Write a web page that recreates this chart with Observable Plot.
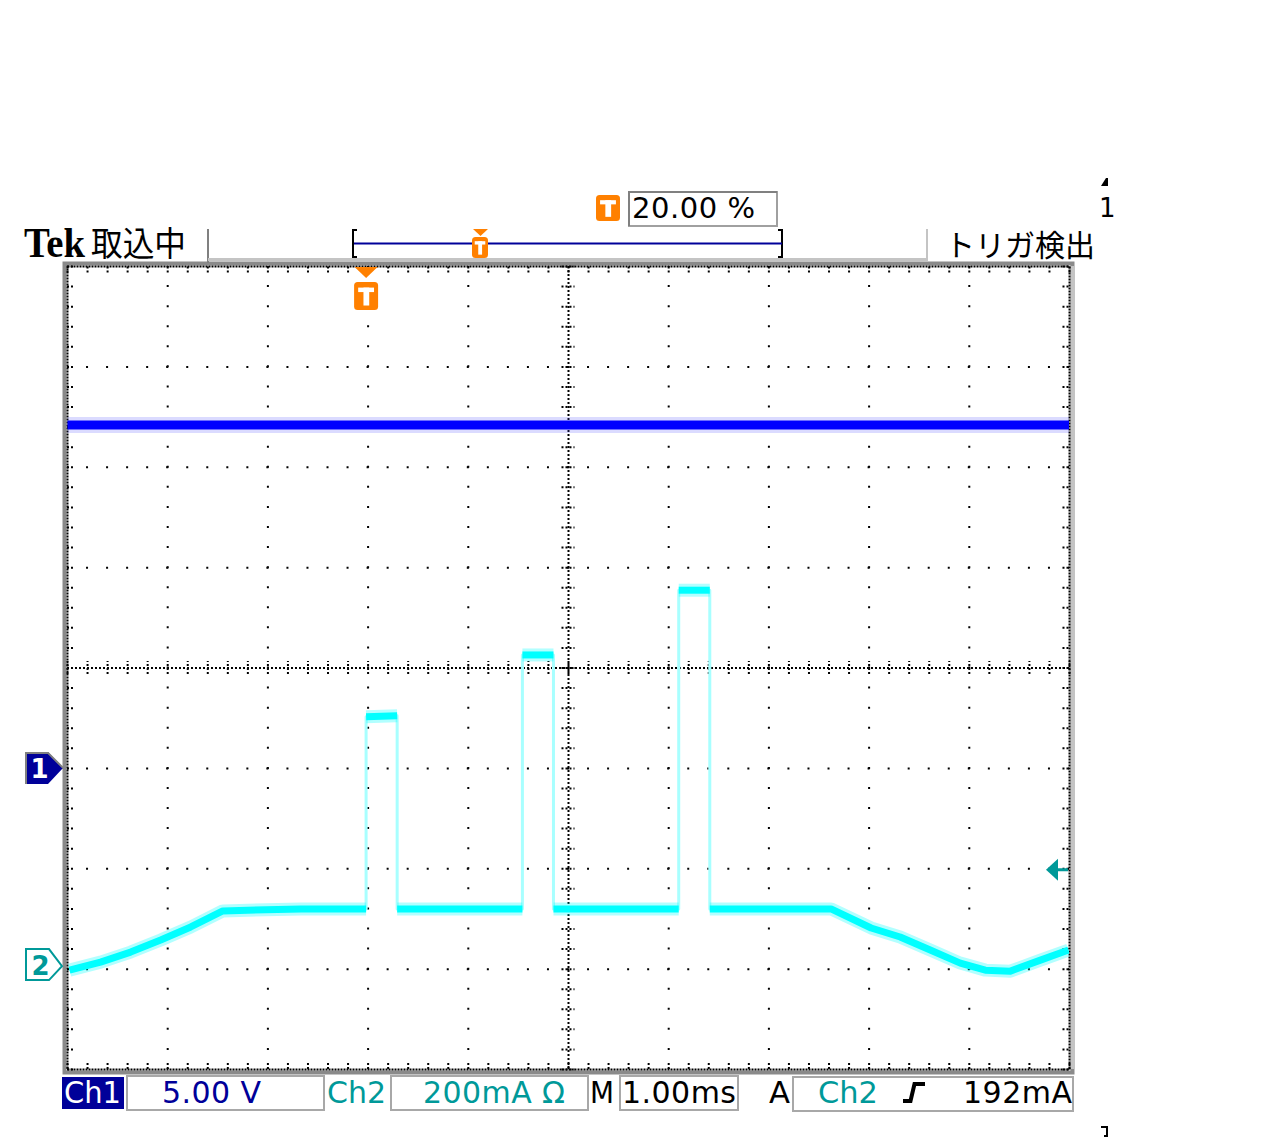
<!DOCTYPE html>
<html><head><meta charset="utf-8">
<script src="https://cdn.jsdelivr.net/npm/d3@7"></script>
<script src="https://cdn.jsdelivr.net/npm/@observablehq/plot@0.6"></script>
<style>
html,body{margin:0;padding:0;background:#fff;}
#wrap{position:relative;width:1262px;height:1138px;overflow:hidden;background:#fff;}
#wrap > svg{position:absolute;left:0;top:0;}
</style></head><body><div id="wrap"></div>
<script>
const timeDomain = [-3, 7];          // ms, 1.00 ms/div, 10 divisions, trigger at 0
const divDomain = [-4, 4];           // vertical divisions
const ch1VoltsPerDiv = 5.0;
const ch2mAPerDiv = 200;
const ch1Ground = -1.0;              // div (marker "1")
const ch2Ground = -2.975;            // div (marker "2")
const trigLevel_mA = 192;
const trigTime = 0;

const ch1Time  = [-3, -1, 1, 3, 5, 7];
const ch1Volts = [17.1, 17.1, 17.1, 17.1, 17.1, 17.1];

const ch2Time = [-2.98, -2.67, -2.37, -2.07, -1.77, -1.45, -0.67, -0.02, -0.02, 0.29, 0.29, 1.54, 1.54, 1.85, 1.85, 3.10, 3.10, 3.41, 3.41, 4.62, 5.02, 5.31, 5.61, 5.91, 6.16, 6.41, 6.71, 6.99];
const ch2mA   = [-7, 9, 29, 53, 79, 111, 115, 115, 498, 500, 115, 115, 621, 621, 115, 115, 750, 750, 115, 115, 77, 59, 33, 7, -7, -9, 13, 33];

const headerBrand = "Tek";
const headerAcq = "取込中";
const headerTrig = "トリガ検出";
const trigPosText = "20.00 %";
const ch1Label = "Ch1", ch1Scale = "5.00 V";
const ch2Label = "Ch2", ch2Scale = "200mA Ω";
const timeLabel = "M", timeScale = "1.00ms";
const trigModeLabel = "A", trigSrc = "Ch2", trigLevelText = "192mA";

// ---------------- derived tables ----------------
const ch1 = ch1Time.map((t, i) => ({t, y: ch1Ground + ch1Volts[i] / ch1VoltsPerDiv}));
let seg = 0;
const ch2 = ch2Time.map((t, i) => {
  if (i > 0 && t === ch2Time[i - 1]) seg++;
  return {t, y: ch2Ground + ch2mA[i] / ch2mAPerDiv, seg};
});
const xC = (timeDomain[0] + timeDomain[1]) / 2, yC = 0;
const majorX = d3.range(timeDomain[0] + 1, timeDomain[1]).filter(v => v !== xC);
const majorY = d3.range(divDomain[0] + 1, divDomain[1]).filter(v => v !== yC);
const xMinor = d3.range(0, 51).map(i => timeDomain[0] + i * 0.2);
const yMinor = d3.range(0, 41).map(i => divDomain[0] + i * 0.2);
const tk = 0.065;

const W = 1262, H = 1138;
const dot = {stroke: "black", strokeWidth: 2};
const plot = Plot.plot({
  width: W, height: H,
  marginLeft: 67, marginRight: W - 1069, marginTop: 266, marginBottom: H - 1069,
  x: {domain: timeDomain, axis: null},
  y: {domain: divDomain, axis: null},
  style: {background: "transparent"},
  marks: [
    Plot.frame({inset: -3, stroke: "#8a8a8a", strokeWidth: 4}),
    Plot.ruleX([timeDomain[1]], {dx: 3, stroke: "#c4c4c4", strokeWidth: 4}),
    Plot.ruleX(majorX, {...dot, y1: divDomain[0], y2: divDomain[1], strokeDasharray: "2,18.075", strokeDashoffset: 1}),
    Plot.ruleY(majorY, {...dot, x1: timeDomain[0], x2: timeDomain[1], strokeDasharray: "2,18.04", strokeDashoffset: 1}),
    Plot.ruleX([xC], {...dot, strokeDasharray: "2,2"}),
    Plot.ruleY([yC], {...dot, strokeDasharray: "2,2"}),
    Plot.ruleX(xMinor, {...dot, y1: yC - tk, y2: yC + tk, strokeDasharray: "2,2"}),
    Plot.ruleY(yMinor, {...dot, x1: xC - tk, x2: xC + tk, strokeDasharray: "2,2"}),
    Plot.ruleY(yMinor, {...dot, x1: timeDomain[0], x2: timeDomain[0] + tk, strokeDasharray: "2,2"}),
    Plot.ruleY(yMinor, {...dot, x1: timeDomain[1] - tk, x2: timeDomain[1], strokeDasharray: "2,2"}),
    Plot.ruleX(xMinor, {...dot, y1: divDomain[1] - tk, y2: divDomain[1], strokeDasharray: "2,2"}),
    Plot.ruleX(xMinor, {...dot, y1: divDomain[0], y2: divDomain[0] + tk, strokeDasharray: "2,2"}),
    Plot.frame({stroke: "black", strokeWidth: 2, strokeDasharray: "2,1"}),
    // Ch1 trace
    Plot.line(ch1, {x: "t", y: "y", stroke: "#3a3aff", strokeOpacity: 0.18, strokeWidth: 16, strokeLinecap: "butt", clip: true}),
    Plot.line(ch1, {x: "t", y: "y", stroke: "#0000ff", strokeWidth: 9, strokeLinecap: "butt", clip: true}),
    // Ch2 trace
    Plot.line(ch2, {x: "t", y: "y", stroke: "#a8ffff", strokeWidth: 3, strokeLinecap: "butt", clip: true}),
    Plot.line(ch2, {x: "t", y: "y", z: "seg", stroke: "#00ffff", strokeOpacity: 0.3, strokeWidth: 13, strokeLinecap: "butt", clip: true}),
    Plot.line(ch2, {x: "t", y: "y", z: "seg", stroke: "#00ffff", strokeWidth: 7, strokeLinecap: "butt", clip: true})
  ]
});
document.getElementById("wrap").appendChild(plot);

const xs = plot.scale("x"), ys = plot.scale("y");
const ov = d3.select("#wrap").append("svg").attr("width", W).attr("height", H);
const NAVY = "#000099", TEAL = "#009999", ORANGE = "#ff8000";

function txt(x, y, s, o = {}) {
  const t = ov.append("text").attr("x", x).attr("y", y).text(s)
    .attr("fill", o.fill || "#000")
    .attr("font-family", o.family || "'DejaVu Sans'")
    .attr("font-size", o.size || 30)
    .attr("font-weight", o.weight || "normal")
    .attr("text-anchor", o.anchor || "start");
  if (o.len) t.attr("textLength", o.len).attr("lengthAdjust", o.adj || "spacingAndGlyphs");
  return t;
}
function line(d, stroke, w, extra = {}) {
  const p = ov.append("path").attr("d", d).attr("fill", "none").attr("stroke", stroke).attr("stroke-width", w);
  for (const k in extra) p.attr(k, extra[k]);
  return p;
}
function tBox(x, y, w, h) {
  ov.append("rect").attr("x", x).attr("y", y).attr("width", w).attr("height", h).attr("rx", 3.5).attr("fill", ORANGE);
  ov.append("rect").attr("x", x + w * 0.17).attr("y", y + h * 0.2).attr("width", w * 0.66).attr("height", h * 0.16).attr("fill", "#fff");
  ov.append("rect").attr("x", x + w * 0.39).attr("y", y + h * 0.2).attr("width", w * 0.24).attr("height", h * 0.64).attr("fill", "#fff");
}

// ---- header ----
txt(24, 257, headerBrand, {family: "'Liberation Serif'", weight: "bold", size: 42, len: 61});
txt(91, 256, headerAcq, {family: "'Noto Sans CJK JP'", size: 34, len: 95});
line("M208,229V263", "#808080", 2);
line("M208,259.5H927", "#c4c4c4", 3);
line("M927,229V261", "#c4c4c4", 2);
txt(945, 256, headerTrig, {family: "'Noto Sans CJK JP'", size: 30});
// record bracket
line("M357,230H353V257H357", "#000", 2);
line("M778,230H782V257H778", "#000", 2);
line("M354,243.5H782", NAVY, 2);
ov.append("path").attr("d", "M473,229H488L480.5,236Z").attr("fill", ORANGE);
tBox(472, 237, 16, 21);
// trigger position readout
tBox(596, 195, 24, 26);
ov.append("rect").attr("x", 629).attr("y", 192).attr("width", 148).attr("height", 34).attr("fill", "none").attr("stroke", "#a0a0a0").attr("stroke-width", 2);
line("M629,226V192H777", "#808080", 2);
txt(632, 218, trigPosText, {size: 29, len: 123, adj: "spacing"});
// top-right residue
ov.append("path").attr("d", "M1101,186L1106,178H1108V186Z").attr("fill", "#000");
txt(1099, 217, "1", {size: 26});

// ---- plot markers tied to scales ----
const y1g = ys.apply(ch1Ground);
ov.append("path").attr("d", `M25,${y1g - 16}H48L63,${y1g}L48,${y1g + 16}H25Z`).attr("fill", NAVY);
line(`M26,${y1g + 16}V${y1g - 15}H48L63,${y1g}`, "#808080", 2);
txt(39.5, y1g + 10, "1", {fill: "#fff", size: 26, weight: "bold", anchor: "middle"});
const y2g = ys.apply(ch2Ground);
ov.append("path").attr("d", `M26,${y2g - 17}H49L62,${y2g}L49,${y2g + 14}H26Z`).attr("fill", "#fff").attr("stroke", TEAL).attr("stroke-width", 2);
txt(40.5, y2g + 9, "2", {fill: TEAL, size: 26, weight: "bold", anchor: "middle"});
const yTrig = ys.apply(ch2Ground + trigLevel_mA / ch2mAPerDiv);
const xR = xs.apply(timeDomain[1]);
ov.append("path").attr("d", `M${xR - 23},${yTrig}L${xR - 11},${yTrig - 11}V${yTrig + 11}Z`).attr("fill", TEAL);
line(`M${xR - 12},${yTrig}H${xR - 1}`, TEAL, 3);
const xT = xs.apply(trigTime) - 1.5;
ov.append("path").attr("d", `M${xT - 11.5},267H${xT + 11.5}L${xT},278Z`).attr("fill", ORANGE);
tBox(xT - 12, 282, 24, 28);

// ---- footer ----
const FY = 1103;
ov.append("rect").attr("x", 62).attr("y", 1077).attr("width", 62).attr("height", 32).attr("fill", NAVY);
txt(64, FY, ch1Label, {fill: "#fff", size: 30, len: 57});
ov.append("rect").attr("x", 127).attr("y", 1076).attr("width", 197).attr("height", 34).attr("fill", "none").attr("stroke", "#a8a8a8").attr("stroke-width", 2);
txt(162, FY, ch1Scale, {fill: NAVY, size: 30, len: 99, adj: "spacing"});
txt(327, FY, ch2Label, {fill: TEAL, size: 30, len: 59});
ov.append("rect").attr("x", 391).attr("y", 1076).attr("width", 197).attr("height", 34).attr("fill", "none").attr("stroke", "#a8a8a8").attr("stroke-width", 2);
txt(423, FY, ch2Scale, {fill: TEAL, size: 30, len: 142, adj: "spacing"});
txt(590, FY, timeLabel, {size: 30, len: 24});
ov.append("rect").attr("x", 620).attr("y", 1076).attr("width", 118).attr("height", 34).attr("fill", "none").attr("stroke", "#a8a8a8").attr("stroke-width", 2);
txt(622, FY, timeScale, {size: 30, len: 114, adj: "spacing"});
txt(769, FY, trigModeLabel, {size: 30, len: 21});
ov.append("rect").attr("x", 793).attr("y", 1077).attr("width", 280).attr("height", 34).attr("fill", "none").attr("stroke", "#a8a8a8").attr("stroke-width", 2);
txt(818, FY, trigSrc, {fill: TEAL, size: 30, len: 60});
line("M903,1101H910.5L914.5,1084H925", "#000", 4, {"stroke-linejoin": "miter"});
txt(963, FY, trigLevelText, {size: 30, len: 109, adj: "spacing"});
line("M1101,1127H1107V1136H1104", "#000", 2);
</script></body></html>
